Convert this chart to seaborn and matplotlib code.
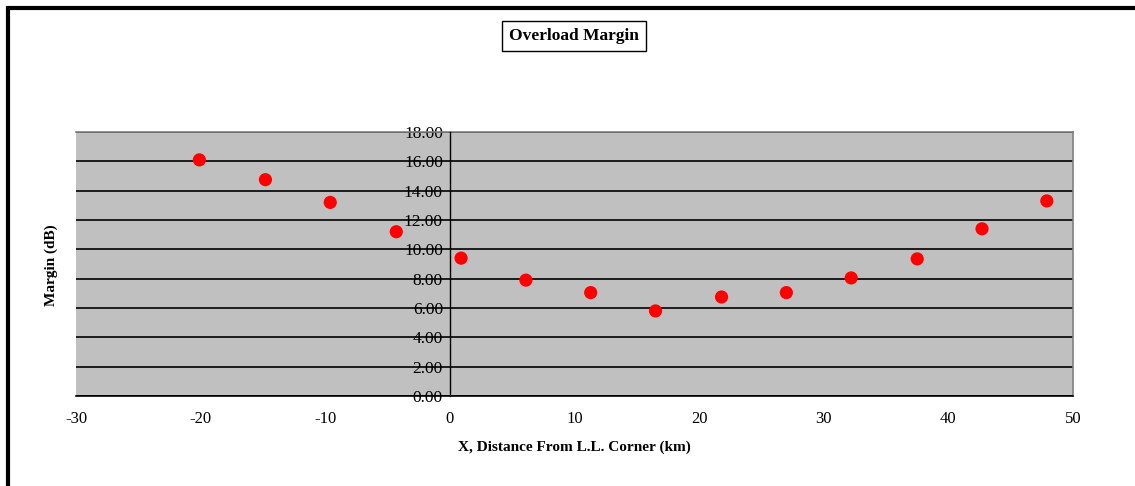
import matplotlib
matplotlib.use("Agg")
import matplotlib.pyplot as plt
import seaborn as sns
import pandas as pd
from matplotlib.patches import Rectangle

x_km = [-20.1, -14.8, -9.6, -4.3, 0.9, 6.1, 11.3, 16.5, 21.8, 27.0, 32.2, 37.5, 42.7, 47.9]
margin_db = [16.1, 14.75, 13.2, 11.2, 9.4, 7.9, 7.05, 5.8, 6.75, 7.05, 8.05, 9.35, 11.4, 13.3]
x_ticks = [-30, -20, -10, 0, 10, 20, 30, 40, 50]
y_ticks = [0, 2, 4, 6, 8, 10, 12, 14, 16, 18]
title = "Overload Margin"
xlabel = "X, Distance From L.L. Corner (km)"
ylabel = "Margin (dB)"

sns.set_style("white")
plt.rcParams['font.family'] = ['Liberation Serif', 'DejaVu Serif']
plt.rcParams['text.color'] = 'black'
plt.rcParams['xtick.color'] = 'black'
plt.rcParams['ytick.color'] = 'black'
plt.rcParams['axes.labelcolor'] = 'black'

W, H = 1135, 486
fig = plt.figure(figsize=(W / 100, H / 100), dpi=100)
ax = fig.add_axes([76 / W, 1 - 396 / H, (1073 - 76) / W, (396 - 132) / H])
ax.set_facecolor("#c0c0c0")

df = pd.DataFrame({"x": x_km, "y": margin_db})
sns.scatterplot(data=df, x="x", y="y", ax=ax, color="#ff0000", s=90,
                edgecolor="none", zorder=5, legend=False)

ax.spines["left"].set_position(("data", 0))
ax.spines["left"].set_color("black")
ax.spines["left"].set_linewidth(1.0)
ax.spines["left"].set_zorder(3)
for s in ["top", "right"]:
    ax.spines[s].set_color("#808080")
    ax.spines[s].set_linewidth(1.2)
ax.spines["bottom"].set_color("black")
ax.spines["bottom"].set_linewidth(1.2)

ax.set_xlim(-30, 50)
ax.set_ylim(0, 18)
ax.set_xticks(x_ticks)
ax.set_xticklabels([str(t) for t in x_ticks])
ax.set_yticks(y_ticks)
ax.set_yticklabels([f"{t:.2f}" for t in y_ticks])
ax.grid(axis="y", color="black", linewidth=1.2)
ax.grid(axis="x", visible=False)
ax.set_axisbelow(True)

ax.tick_params(axis="x", direction="out", length=5, width=1, color="black",
               pad=6, labelsize=12, labelcolor="black")
ax.tick_params(axis="y", direction="out", length=4, width=1, color="black",
               pad=1, labelsize=12.5, labelcolor="black")

ax.set_xlabel("")
ax.set_ylabel("")
fig.text(574 / W, 1 - 447 / H, xlabel, ha="center", va="center",
         fontsize=11, fontweight="bold", color="black")
fig.text(51 / W, 1 - 265 / H, ylabel, ha="center", va="center",
         fontsize=11, fontweight="bold", rotation=90, color="black")
fig.text(574 / W, 1 - 36 / H, title, ha="center", va="center",
         fontsize=12.5, fontweight="bold", color="black",
         bbox=dict(boxstyle="square,pad=0.4", facecolor="white",
                   edgecolor="black", linewidth=1))

# outer chart frame (top and left visible)
fig.patches.append(Rectangle((8 / W, -0.05), 1.2, 1 - 8 / H + 0.05,
                             transform=fig.transFigure, fill=False,
                             edgecolor="black", linewidth=3))

fig.savefig("out.png", dpi=100)
